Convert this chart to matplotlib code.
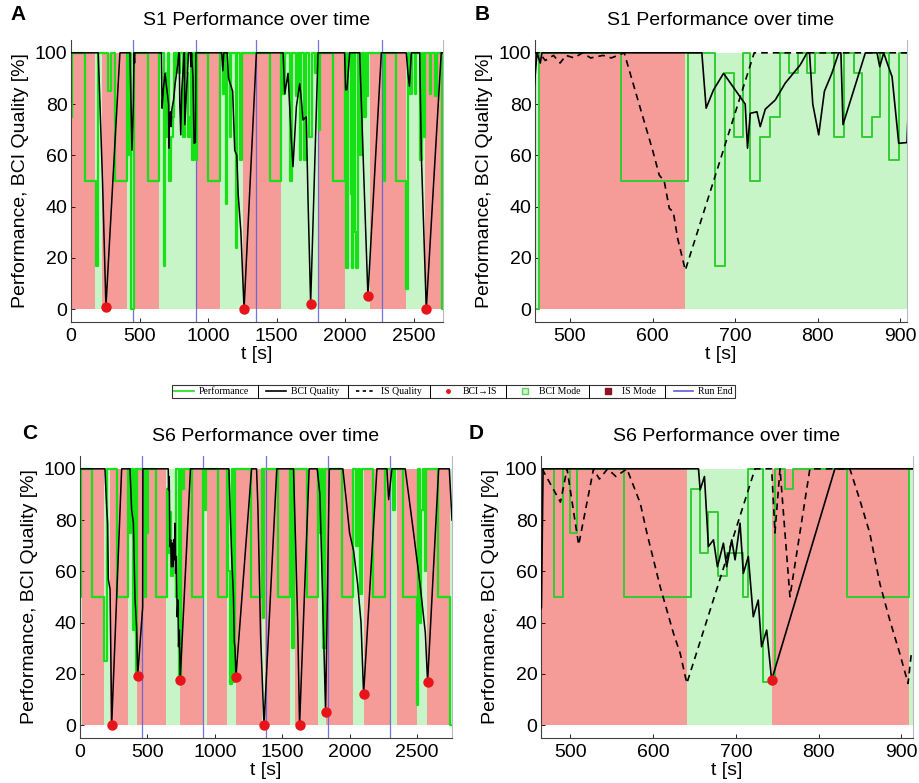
"""
Rendimiento en el tiempo (S1 y S6): rendimiento, calidad BCI / IS, modo activo y fin de run.
Paneles B y D son un zoom sobre el segundo run de cada sujeto.
"""
import matplotlib.pyplot as plt
import numpy as np
from matplotlib.lines import Line2D

W_PX, H_PX = 919, 783

COL_IS_MODE = "#f59b98"
COL_BCI_MODE = "#c8f5c8"
COL_PERF_FULL = "#16e016"
COL_PERF_ZOOM = "#33cc33"
COL_DOT = "#e8141c"
COL_RUN = "#5c5cd8"

# ---- S1 ----
s1_mode_edges = [0, 5, 175, 224, 406, 463, 639, 909, 1086, 1256, 1535, 1803,
                 1997, 2180, 2447, 2580, 2702, 2720]
s1_mode_is = [0, 1, 0, 1, 0, 1, 0, 1, 0, 1, 0, 1, 0, 1, 0, 1, 0]

s1_perf_t = [0, 4, 102, 180, 195, 270, 290, 321, 406, 415, 425, 440, 462, 561.5,
             643.4, 675.8, 687.9, 698, 709.3, 718.2, 730.3, 742.4, 753.7, 764.6,
             775.6, 786.9, 797, 819.2, 831.3, 843.4, 853.5, 865.7, 875.8, 885.9,
             898, 911, 918, 1000, 1086, 1110, 1120, 1134, 1142, 1160, 1170, 1207,
             1215, 1235, 1248, 1450, 1535, 1548, 1560, 1600, 1615, 1640, 1655,
             1668, 1680, 1700, 1715, 1740, 1760, 1780, 1795, 1812, 1818, 1912,
             1997, 2009, 2020, 2040, 2048, 2060, 2070, 2082, 2095, 2110, 2125,
             2140, 2150, 2160, 2170, 2285, 2295, 2370, 2447, 2457, 2475, 2490,
             2510, 2520, 2545, 2560, 2575, 2582, 2620, 2630, 2660, 2670, 2708, 2720]
s1_perf_v = [75, 100, 50, 17, 100, 85, 100, 50, 100, 60, 100, 0, 100, 50,
             100, 17, 92, 67, 100, 50, 67, 75, 100, 92,
             100, 92, 100, 67, 100, 92, 67, 75, 100, 58,
             100, 58, 100, 50, 100, 84, 100, 41, 100, 67, 100, 24,
             100, 58, 100, 50, 100, 84, 100, 50, 100, 83, 100,
             58, 100, 58, 100, 67, 100, 92, 100, 70, 100, 50,
             100, 16, 100, 45, 16, 100, 30, 16, 100, 60, 100,
             75, 100, 83, 100, 50, 100, 50, 8, 100, 84, 100,
             84, 100, 58, 100, 67, 100, 84, 100, 83, 100, 0, 0]

s1_bci_t = [0, 199, 230, 255, 357, 430, 445, 455, 460, 464, 466, 659.6, 664.8,
            673.7, 685.9, 712.1, 714.9, 718.2, 726.3, 730.3, 736.4, 748.5, 760.6,
            778.8, 786.9, 790, 793.9, 801.1, 808, 817, 825.3, 828, 830.5, 857.6,
            871.7, 875, 879.8, 884, 889.9, 898, 908, 912, 1100, 1108, 1115, 1140,
            1150, 1180, 1195, 1210, 1220, 1240, 1263, 1353, 1548, 1560, 1584,
            1608, 1620, 1645, 1669, 1681, 1693, 1717, 1730, 1749, 1803, 1997,
            2004, 2014, 2034, 2107, 2135, 2167, 2265, 2447, 2459, 2470, 2484,
            2545, 2557, 2569, 2593, 2702, 2720]
s1_bci_v = [100, 100, 50, 1, 100, 100, 62, 80, 100, 96, 100, 100, 78.4,
            85.5, 92, 80, 62.8, 76.4, 77, 71.2, 78, 81.6, 88.2,
            95.3, 100, 100, 80, 68, 85, 92, 100, 100, 72, 100,
            100, 94.6, 100, 96, 90.7, 64.7, 65, 100, 100, 93, 100, 100,
            90, 85, 62, 60, 45, 30, 0, 100, 100, 84, 92,
            66, 55.6, 79, 88, 81.7, 73.8, 75, 42.5, 2.2, 100, 100,
            85.6, 85.6, 100, 100, 55, 5.2, 100, 100, 92, 87, 100,
            100, 60, 40, 0, 100, 100]

s1_is_t = [455, 463, 470, 480, 488, 495, 505, 515, 525, 540, 550, 565.6, 585.7,
           600, 608, 614, 620.2, 625, 630.3, 639.6, 723, 910]
s1_is_v = [100, 100, 97, 99, 96, 99, 98, 100, 98, 99, 98, 100, 77.7,
           62, 52.3, 50, 39.3, 38, 27.6, 15.2, 100, 100]

s1_switch_t = [255, 1263, 1749, 2167, 2593]
s1_switch_v = [1, 0, 2, 5.2, 0]
s1_run_end = [454, 911, 1353, 1805, 2267]

# ---- S6 ----
s6_mode_edges = [0, 12, 180, 223, 358, 420, 640.7, 743.2, 909, 940, 1088, 1157,
                 1347, 1372, 1558, 1595, 1768, 1822, 2028, 2107, 2300, 2350,
                 2498, 2577, 2745, 2760]
s6_mode_is = [0, 1, 0, 1, 0, 1, 0, 1, 0, 1, 0, 1, 0, 1, 0, 1, 0, 1, 0, 1, 0, 1, 0, 1, 0]

s6_perf_t = [0, 10, 86.5, 180, 200, 272, 358, 365, 375, 395, 405, 412, 420, 480,
             491, 500, 508, 564.3, 645.9, 656.8, 666.8, 678.1, 688.9, 709, 715,
             733.2, 747.2, 759.3, 769.3, 833.7, 909, 925, 932, 1026, 1088, 1100,
             1110, 1125, 1140, 1150, 1270, 1347, 1355, 1365, 1472, 1558, 1570,
             1590, 1681, 1768, 1780, 1795, 1805, 1815, 1941, 2028, 2045, 2060,
             2080, 2095, 2176, 2263, 2320, 2335, 2399, 2498, 2505, 2520, 2530,
             2545, 2560, 2570, 2658, 2745, 2760]
s6_perf_v = [50, 100, 50, 25, 100, 50, 100, 75, 100, 37, 100, 19, 100, 50,
             100, 75, 100, 50, 92, 67, 83, 58, 67, 50, 100,
             17, 100, 92, 100, 50, 100, 84, 100, 50, 100, 60,
             16, 100, 17, 100, 50, 100, 42, 100, 50, 100, 30,
             100, 50, 100, 75, 100, 30, 100, 50, 100, 70, 100,
             51, 100, 50, 100, 84, 100, 50, 8, 100, 40, 84,
             100, 60, 100, 50, 0, 0]

s6_bci_t = [0, 185, 198, 205, 210, 223, 235, 309, 371, 383, 396, 408, 420, 428,
            465, 467, 654.8, 656.8, 662, 666.8, 672.9, 677.7, 684.9, 688.9, 695,
            699, 705, 709, 715, 721, 727, 731, 737.2, 743.2, 819.6, 1105, 1113,
            1125, 1138, 1145, 1150, 1157, 1273, 1310, 1320, 1330, 1340, 1365,
            1460, 1584, 1600, 1615, 1629, 1700, 1760, 1780, 1795, 1810, 1822,
            1850, 1950, 1975, 2000, 2030, 2060, 2085, 2104, 2203, 2277, 2290,
            2314, 2413, 2475, 2525, 2562, 2579, 2661, 2740, 2760]
s6_bci_v = [100, 100, 84.6, 79, 57, 53, 0, 100, 100, 84, 79, 49.5, 38, 19.3,
            46, 100, 100, 91.8, 97, 69.7, 72.3, 61.8, 71, 61.8, 72.3,
            64.5, 78.8, 59.2, 65.8, 42.3, 48.8, 30.6, 37.1, 17.6, 100, 100, 85.9,
            66.4, 50.8, 32.5, 30, 18.8, 100, 100, 85, 60, 35, 0,
            100, 100, 70, 40, 0, 100, 100, 90, 60, 30, 5.2,
            100, 100, 88, 75, 68, 55, 40, 12.1, 100, 100, 88,
            100, 100, 75, 54, 36, 16.8, 100, 100, 80]

s6_is_t = [465.8, 488, 496, 510, 528, 535, 545, 555, 568.3, 584.4, 592.5, 608.5,
           624.6, 632.7, 640.7, 723.1, 743.2, 747.2, 753.3, 765.3, 789.4, 837.7,
           849.7, 861.8, 873.9, 885.9, 898, 908, 912]
s6_is_v = [100, 87, 100, 70.3, 100, 96, 100, 97, 100, 86.6, 74.9, 54,
           35.8, 28, 16.3, 100, 100, 75, 100, 50.1, 100, 100,
           87.9, 74.9, 55.3, 41, 28, 16.3, 28]

s6_switch_t = [235, 428, 743.2, 1157, 1365, 1629, 1822, 2104, 2579]
s6_switch_v = [0, 19.3, 17.6, 18.8, 0, 0, 5.2, 12.1, 16.8]
s6_run_end = [457, 915, 1379, 1842, 2302]

TICKS_FULL = [0, 500, 1000, 1500, 2000, 2500]
TICKS_ZOOM = [500, 600, 700, 800, 900]
YTICKS = [0, 20, 40, 60, 80, 100]

FS = 14


def _px(x0, y_top, x1, y_bot):
    return [x0 / W_PX, 1 - y_bot / H_PX, (x1 - x0) / W_PX, (y_bot - y_top) / H_PX]


def dibujar_modos(ax, edges, is_flags):
    edges = np.asarray(edges, dtype=float)
    flags = np.asarray(is_flags, dtype=bool)
    left, width = edges[:-1], np.diff(edges)
    ax.bar(left[flags], 100, width=width[flags], align="edge",
           color=COL_IS_MODE, linewidth=0, zorder=0)
    ax.bar(left[~flags], 100, width=width[~flags], align="edge",
           color=COL_BCI_MODE, linewidth=0, zorder=0)


def dibujar_panel(ax, d, titulo, xlim, xticks, zoom):
    dibujar_modos(ax, d["mode_edges"], d["mode_is"])
    for t in d["run_end"]:
        ax.axvline(t, color=COL_RUN, linewidth=0.9, alpha=0.85, zorder=1)

    if zoom:
        ax.step(d["perf_t"], d["perf_v"], where="post", color=COL_PERF_ZOOM,
                linewidth=1.4, zorder=2)
        ax.plot(d["is_t"], d["is_v"], color="k", linestyle=(0, (4, 3)),
                linewidth=1.2, zorder=3)
        ax.plot(d["bci_t"], d["bci_v"], color="k", linewidth=1.2, zorder=3)
    else:
        ax.step(d["perf_t"], d["perf_v"], where="post", color=COL_PERF_FULL,
                linewidth=1.6, zorder=2)
        ax.plot(d["bci_t"], d["bci_v"], color="k", linewidth=1.1, zorder=3)

    ax.plot(d["sw_t"], d["sw_v"], "o", color=COL_DOT, markersize=7.5,
            markeredgewidth=0, zorder=5)

    ax.set_xlim(*xlim)
    ax.set_ylim(-5, 105)
    ax.set_xticks(xticks)
    ax.set_yticks(YTICKS)
    ax.tick_params(direction="in", length=3, labelsize=FS, width=0.6)
    ax.tick_params(axis="y", pad=2.5)
    ax.tick_params(axis="x", pad=4)
    ax.spines["top"].set_visible(False)
    ax.spines["right"].set_color("#b8b8c8")
    ax.spines["left"].set_color("#404040")
    ax.spines["bottom"].set_color("#404040")
    for s in ax.spines.values():
        s.set_linewidth(0.8)

    ax.set_title(titulo, fontsize=FS, pad=11)
    ax.set_xlabel("t [s]", fontsize=FS, labelpad=1)
    ax.set_ylabel("Performance, BCI Quality [%]", fontsize=FS, labelpad=4)


def main() -> None:
    plt.rcParams["font.family"] = ["Liberation Sans", "DejaVu Sans"]

    s1 = dict(mode_edges=s1_mode_edges, mode_is=s1_mode_is, perf_t=s1_perf_t,
              perf_v=s1_perf_v, bci_t=s1_bci_t, bci_v=s1_bci_v, is_t=s1_is_t,
              is_v=s1_is_v, sw_t=s1_switch_t, sw_v=s1_switch_v, run_end=s1_run_end)
    s6 = dict(mode_edges=s6_mode_edges, mode_is=s6_mode_is, perf_t=s6_perf_t,
              perf_v=s6_perf_v, bci_t=s6_bci_t, bci_v=s6_bci_v, is_t=s6_is_t,
              is_v=s6_is_v, sw_t=s6_switch_t, sw_v=s6_switch_v, run_end=s6_run_end)

    fig = plt.figure(figsize=(W_PX / 100, H_PX / 100), dpi=100)
    ax_a = fig.add_axes(_px(71, 40, 443, 322))
    ax_b = fig.add_axes(_px(535, 40, 907, 322))
    ax_c = fig.add_axes(_px(80, 456, 452, 738))
    ax_d = fig.add_axes(_px(541, 456, 913, 738))

    dibujar_panel(ax_a, s1, "S1 Performance over time", (0, 2715), TICKS_FULL, False)
    dibujar_panel(ax_b, s1, "S1 Performance over time", (457.6, 908), TICKS_ZOOM, True)
    dibujar_panel(ax_c, s6, "S6 Performance over time", (0, 2760), TICKS_FULL, False)
    dibujar_panel(ax_d, s6, "S6 Performance over time", (464.5, 914), TICKS_ZOOM, True)

    for letra, x, y in [("A", 18, 15), ("B", 482, 15), ("C", 30, 433), ("D", 476, 433)]:
        fig.text(x / W_PX, 1 - y / H_PX, letra, fontsize=15, fontweight="bold",
                 ha="center", va="center")

    handles = [
        Line2D([], [], color=COL_PERF_FULL, linewidth=1.2),
        Line2D([], [], color="k", linewidth=1.2),
        Line2D([], [], color="k", linewidth=1.2, linestyle=(0, (2, 2))),
        Line2D([], [], color=COL_DOT, marker="o", linestyle="none", markersize=2.5),
        Line2D([], [], marker="s", linestyle="none", markersize=5,
               markerfacecolor=COL_BCI_MODE, markeredgecolor="#66cc66"),
        Line2D([], [], marker="s", linestyle="none", markersize=5,
               markerfacecolor="#8b1520", markeredgecolor="#8b1520"),
        Line2D([], [], color=COL_RUN, linewidth=1.2),
    ]
    etiquetas = ["Performance", "BCI Quality", "IS Quality", "BCI\u2192IS",
                 "BCI Mode", "IS Mode", "Run End"]
    fs_leg = 7
    leg = fig.legend(handles, etiquetas, ncol=7, mode="expand", loc="center",
                     bbox_to_anchor=_px(172, 385, 735, 398),
                     prop={"family": ["Liberation Serif", "DejaVu Serif"], "size": fs_leg},
                     frameon=True, fancybox=False, edgecolor="k", borderpad=0.25,
                     handlelength=2.0, handletextpad=0.5, borderaxespad=0)
    leg.get_frame().set_linewidth(0.8)

    # separadores verticales entre entradas de la leyenda (encima del marco)
    fig.canvas.draw()
    r = fig.canvas.get_renderer()
    fb = leg.get_frame().get_window_extent(r)
    txt = [t.get_window_extent(r) for t in leg.get_texts()]
    hpx = (2.0 + 0.5) * fs_leg * fig.dpi / 72
    for i in range(len(txt) - 1):
        x = (txt[i].x1 + txt[i + 1].x0 - hpx) / 2
        fig.add_artist(Line2D([x / fig.bbox.width] * 2,
                              [fb.y0 / fig.bbox.height, fb.y1 / fig.bbox.height],
                              transform=fig.transFigure, color="k", linewidth=0.7,
                              zorder=10))

    fig.savefig("out.png", dpi=100)
    plt.close(fig)


if __name__ == "__main__":
    main()
